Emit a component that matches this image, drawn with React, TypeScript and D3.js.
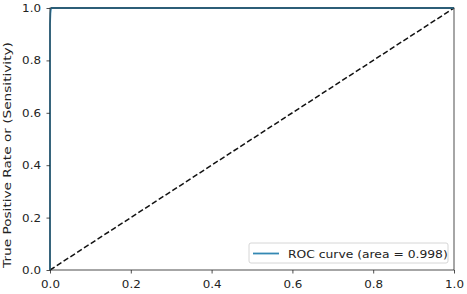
import { useEffect, useRef } from 'react';
import * as d3 from 'd3';

const fpr = [0, 0, 0.001, 0.002, 0.004, 1];
const tpr = [0, 0.94, 0.98, 0.995, 1, 1];
const chanceLine = [0, 1];
const ticks = [0, 0.2, 0.4, 0.6, 0.8, 1.0];
const legendLabel = 'ROC curve (area = 0.998)';
const yLabel = 'True Positive Rate or (Sensitivity)';

// stretch a text element horizontally (along its own direction) by a factor
const stretch = (el: SVGTextElement, k: number) => {
  const len = el.getComputedTextLength();
  el.setAttribute('textLength', String(len * k));
  el.setAttribute('lengthAdjust', 'spacingAndGlyphs');
};

export default function App() {
  const ref = useRef<SVGSVGElement>(null);

  useEffect(() => {
    if (!ref.current) return;
    const svg = d3.select(ref.current);
    svg.selectAll('*').remove();

    const margin = { top: 8, right: 13, bottom: 24, left: 50 };
    const W = 467, H = 294;
    const width = W - margin.left - margin.right;
    const height = H - margin.top - margin.bottom;

    const x = d3.scaleLinear().domain([0, 1]).range([0, width]);
    const y = d3.scaleLinear().domain([0, 1]).range([height, 0]);

    const g = svg.append('g').attr('transform', `translate(${margin.left},${margin.top})`);

    const line = d3.line<[number, number]>().x(d => x(d[0])).y(d => y(d[1]));

    g.append('path')
      .datum(chanceLine.map(v => [v, v] as [number, number]))
      .attr('fill', 'none')
      .attr('stroke', '#111')
      .attr('stroke-width', 1.5)
      .attr('stroke-dasharray', '5.5,2.6')
      .attr('d', line);

    g.append('path')
      .datum(fpr.map((f, i) => [f, tpr[i]] as [number, number]))
      .attr('fill', 'none')
      .attr('stroke', '#3488b3')
      .attr('stroke-width', 1.8)
      .attr('d', line);

    const font = 'DejaVu Sans, sans-serif';
    const xAxis = g.append('g')
      .attr('transform', `translate(0,${height})`)
      .call(d3.axisBottom(x).tickValues(ticks).tickFormat(d3.format('.1f')).tickSize(3.5).tickPadding(6.5));
    const yAxis = g.append('g')
      .call(d3.axisLeft(y).tickValues(ticks).tickFormat(d3.format('.1f')).tickSize(3.5).tickPadding(5.5));
    [xAxis, yAxis].forEach(a => {
      a.select('.domain').remove();
      a.selectAll('line').attr('stroke', '#222').attr('stroke-width', 0.8);
      a.selectAll<SVGTextElement, unknown>('text')
        .attr('font-family', font)
        .attr('font-size', 11)
        .attr('fill', '#222')
        .each(function () { stretch(this, 1.08); });
    });

    g.append('rect')
      .attr('width', width)
      .attr('height', height)
      .attr('fill', 'none')
      .attr('stroke', '#222')
      .attr('stroke-width', 0.8);

    svg.append('text')
      .attr('transform', `translate(10.5,155) rotate(-90)`)
      .attr('text-anchor', 'middle')
      .attr('font-family', font)
      .attr('font-size', 11)
      .attr('fill', '#222')
      .text(yLabel)
      .each(function () { stretch(this as SVGTextElement, 1.24); });

    const legend = g.append('g').attr('transform', `translate(${width - 205},${height - 27})`);
    legend.append('rect')
      .attr('width', 199)
      .attr('height', 20)
      .attr('rx', 2)
      .attr('fill', 'white')
      .attr('fill-opacity', 0.8)
      .attr('stroke', '#ccc')
      .attr('stroke-width', 0.8);
    legend.append('line')
      .attr('x1', 4).attr('x2', 30)
      .attr('y1', 10.5).attr('y2', 10.5)
      .attr('stroke', '#3488b3')
      .attr('stroke-width', 1.8);
    legend.append('text')
      .attr('x', 39)
      .attr('y', 14.5)
      .attr('font-family', font)
      .attr('font-size', 11)
      .attr('fill', '#222')
      .text(legendLabel)
      .each(function () { stretch(this as SVGTextElement, 1.12); });
  }, []);

  return <svg ref={ref} width={467} height={294} style={{ display: 'block', position: 'absolute', left: 0, top: 0 }} />;
}
